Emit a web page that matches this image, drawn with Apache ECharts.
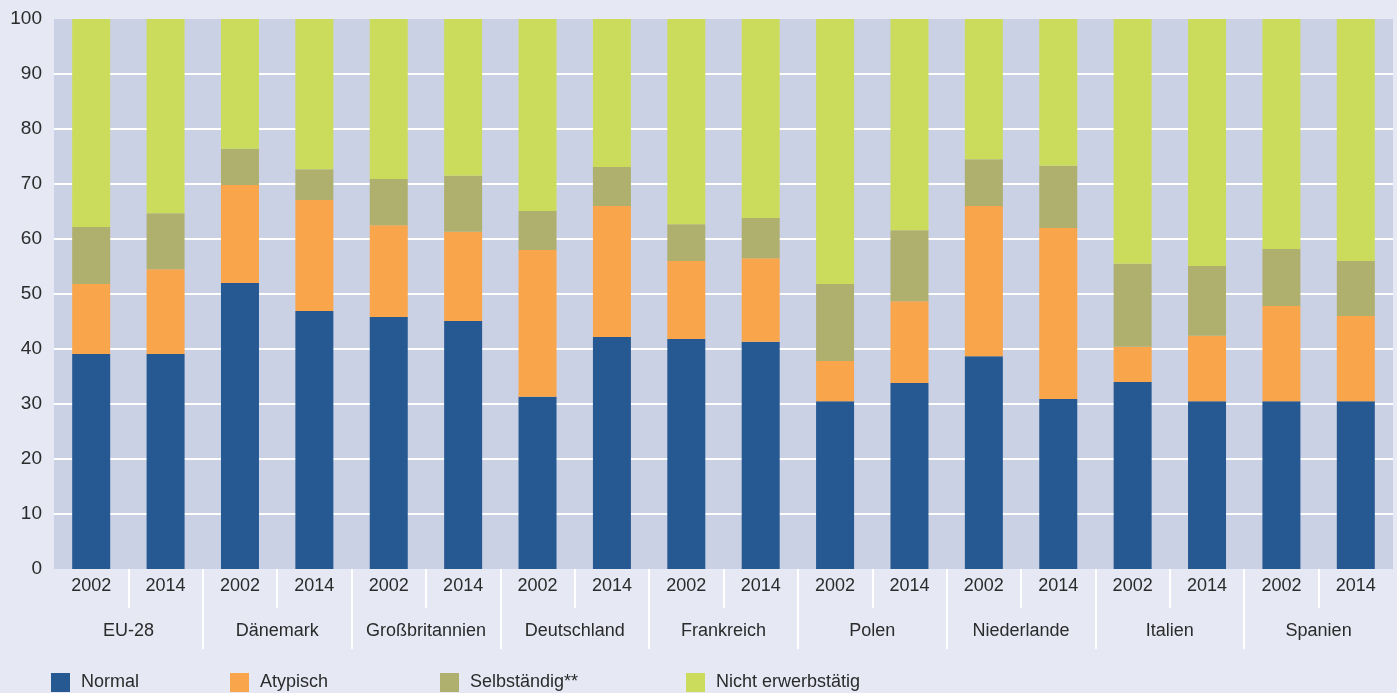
<!DOCTYPE html>
<html>
<head>
<meta charset="utf-8">
<script src="https://cdn.jsdelivr.net/npm/echarts@6/dist/echarts.min.js"></script>
<style>
  html, body { margin: 0; padding: 0; background: #e6e8f4; }
  #draw { width: 1397px; height: 693px; }
</style>
</head>
<body>
<div id="draw"></div>
<script>
// data (percent)
var years = ["2002", "2014", "2002", "2014", "2002", "2014", "2002", "2014", "2002",
             "2014", "2002", "2014", "2002", "2014", "2002", "2014", "2002", "2014"];
var countries = ["EU-28", "Dänemark", "Großbritannien", "Deutschland", "Frankreich",
                 "Polen", "Niederlande", "Italien", "Spanien"];
var normal = [39.1, 39.1, 52.0, 46.9, 45.8, 45.1, 31.3, 42.2, 41.8,
              41.3, 30.5, 33.8, 38.7, 30.9, 34.0, 30.5, 30.5, 30.5];
var atypisch = [12.7, 15.4, 17.8, 20.2, 16.7, 16.2, 26.7, 23.8, 14.2,
                15.2, 7.3, 14.9, 27.3, 31.1, 6.4, 11.9, 17.3, 15.5];
var selbstaendig = [10.4, 10.2, 6.6, 5.6, 8.4, 10.2, 7.1, 7.1, 6.7,
                    7.3, 14.0, 12.9, 8.5, 11.3, 15.1, 12.7, 10.4, 10.0];
var nichtErwerbstaetig = [37.8, 35.3, 23.6, 27.3, 29.1, 28.5, 34.9, 26.9, 37.3,
                          36.2, 48.2, 38.4, 25.5, 26.7, 44.5, 44.9, 41.8, 44.0];
var seriesNames = ["Normal", "Atypisch", "Selbständig**", "Nicht erwerbstätig"];
var colors = ["#265892", "#f9a54b", "#b0b06e", "#cbdc5d"];

var chart = echarts.init(document.getElementById("draw"));
var txt = { color: "#2b2b2b", fontSize: 18, fontFamily: "Liberation Sans" };

var legendLeft = [51, 230, 440, 686];
var legends = seriesNames.map(function (n, i) {
  return {
    data: [n],
    left: legendLeft[i],
    top: 673,
    padding: 0,
    itemWidth: 19,
    itemHeight: 19,
    itemGap: 0,
    icon: "rect",
    selectedMode: false,
    textStyle: { color: "#2b2b2b", fontSize: 18, fontFamily: "Liberation Sans", padding: [5, 0, 0, 6] },
  };
});

var option = {
  animation: false,
  backgroundColor: "#e6e8f4",
  color: colors,
  legend: legends,
  grid: {
    left: 54,
    right: 4,
    top: 19,
    bottom: 124,
    show: true,
    backgroundColor: "#cbd1e4",
    borderWidth: 0,
  },
  // hide the closing tick at the right edge (reference has none there)
  graphic: [{
    type: "rect",
    right: 0,
    top: 569,
    shape: { width: 5, height: 90 },
    style: { fill: "#e6e8f4" },
    z: 100,
  }],
  xAxis: [
    {
      type: "category",
      data: years,
      axisLine: { show: false },
      axisTick: {
        show: true,
        length: 39,
        interval: function (i) { return i > 0; },
        lineStyle: { color: "#ffffff", width: 2 },
      },
      axisLabel: Object.assign({ margin: 8, interval: 0 }, txt),
    },
    {
      type: "category",
      data: countries,
      position: "bottom",
      axisLine: { show: false },
      axisTick: {
        show: true,
        length: 80,
        interval: function (i) { return i > 0; },
        lineStyle: { color: "#ffffff", width: 2 },
      },
      axisLabel: Object.assign({ margin: 53, interval: 0 }, txt),
    },
  ],
  yAxis: {
    type: "value",
    min: 0,
    max: 100,
    interval: 10,
    axisLine: { show: false },
    axisTick: { show: false },
    axisLabel: Object.assign({ margin: 12 }, txt, { fontSize: 19 }),
    splitLine: {
      show: true,
      showMinLine: false,
      showMaxLine: false,
      lineStyle: { color: "#ffffff", width: 2 },
    },
  },
  series: [normal, atypisch, selbstaendig, nichtErwerbstaetig].map(function (d, i) {
    return {
      name: seriesNames[i],
      type: "bar",
      stack: "total",
      barWidth: 38,
      data: d,
      itemStyle: { color: colors[i] },
    };
  }),
};

chart.setOption(option);
</script>
</body>
</html>
